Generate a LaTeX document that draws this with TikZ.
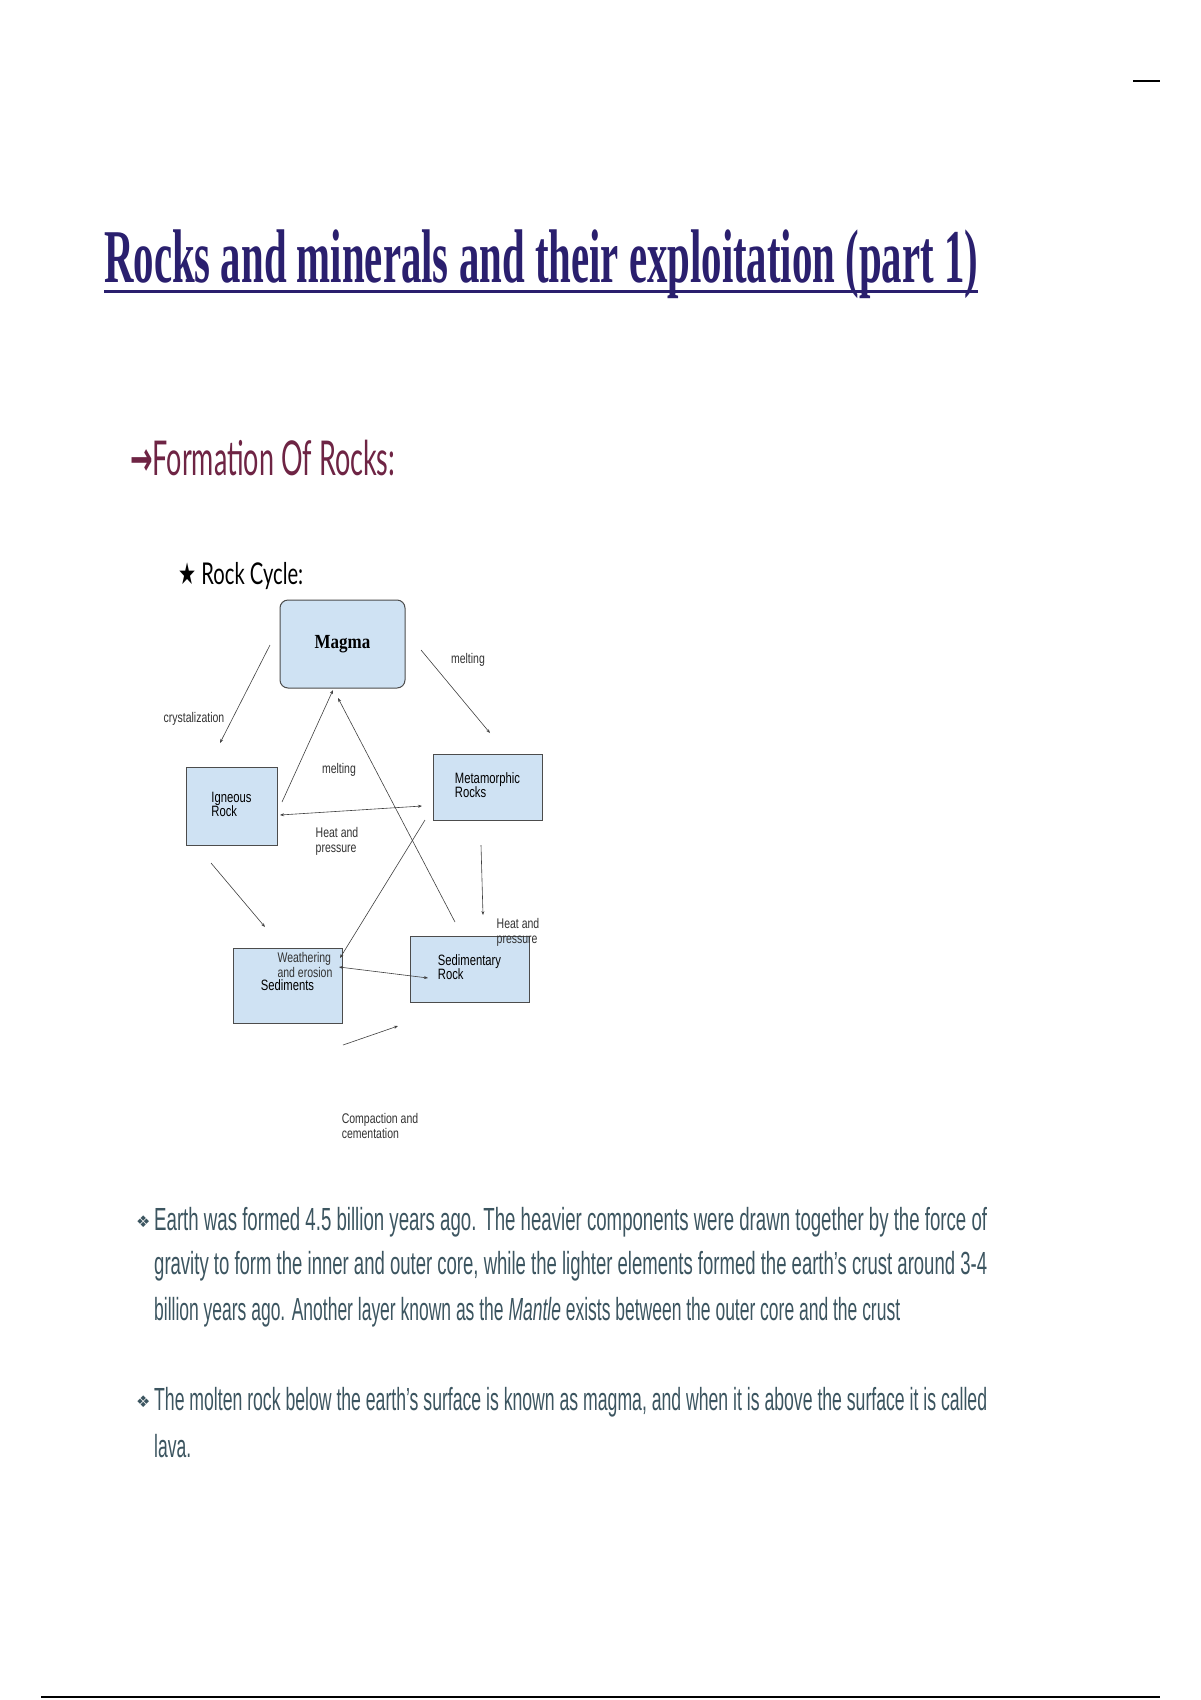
\documentclass[tikz,border=0pt]{standalone}
\usepackage{fontspec}
\usepackage{graphicx}
\setmainfont{Liberation Sans}
\newfontfamily\titlefont{Liberation Serif}
\newfontfamily\headfont{Lato}
\newfontfamily\symfont{DejaVu Sans}
\usetikzlibrary{arrows.meta}
\definecolor{titleblue}{HTML}{2A1F6E}
\definecolor{maroon}{HTML}{6E2444}
\definecolor{bodytxt}{HTML}{3C5560}
\definecolor{boxfill}{HTML}{CFE2F3}
\begin{document}
\begin{tikzpicture}[x=1pt,y=-1pt,
  box/.style={draw=black!70,line width=1pt,fill=boxfill,inner sep=0pt},
  lbl/.style={font=\fontsize{14}{15}\selectfont,text=black!80,align=left,inner sep=0pt},
  arr/.style={-{Stealth[length=4pt,width=3pt]},line width=0.6pt,black!75},
  body/.style={anchor=west,inner sep=0pt,text=bodytxt}]
\useasboundingbox (0,0) rectangle (1200,1700);
\fill[white] (0,0) rectangle (1200,1700);
% top right dash and bottom line
\draw[line width=2pt] (1133,81) -- (1160,81);
\draw[line width=1.5pt] (41,1697) -- (1160,1697);
% title
\node[anchor=base west,inner sep=0pt,text=titleblue] (title) at (104,282)
  {\resizebox{874pt}{\height}{\titlefont\bfseries\fontsize{76}{80}\selectfont Rocks and minerals and their exploitation (part 1)}};
\draw[titleblue,line width=3pt] (104,291) -- (978,291);
% heading
\node[anchor=base west,inner sep=0pt,text=maroon] (head) at (130,475)
  {\resizebox{265pt}{\height}{\headfont\fontsize{48}{50}\selectfont {\symfont\bfseries →}Formation Of Rocks:}};
\node[anchor=base west,inner sep=0pt] (rc) at (178,584)
  {\resizebox{125pt}{\height}{\headfont\fontsize{30}{32}\selectfont {\symfont ★} Rock Cycle:}};
% boxes
\node[box,rounded corners=8pt,minimum width=125pt,minimum height=88pt] (magma) at (342.5,644)
  {\titlefont\bfseries\scalebox{0.85}[1]{\fontsize{20}{22}\selectfont Magma}};
\node[box,minimum width=91pt,minimum height=78pt] (ign) at (231.5,806)
  {\scalebox{0.75}[1]{\begin{tabular}{@{}l@{}}\fontsize{15}{17}\selectfont Igneous\\\fontsize{15}{17}\selectfont Rock\end{tabular}}};
\node[box,minimum width=109pt,minimum height=66pt] (meta) at (487.5,787)
  {\scalebox{0.75}[1]{\begin{tabular}{@{}l@{}}\fontsize{15}{17}\selectfont Metamorphic\\\fontsize{15}{17}\selectfont Rocks\end{tabular}}};
\node[box,minimum width=109pt,minimum height=75pt] (sedi) at (287.5,985.5)
  {\scalebox{0.75}[1]{\fontsize{15}{17}\selectfont Sediments}};
\node[box,minimum width=119pt,minimum height=66pt] (sedr) at (469.5,969)
  {\scalebox{0.75}[1]{\begin{tabular}{@{}l@{}}\fontsize{15}{17}\selectfont Sedimentary\\\fontsize{15}{17}\selectfont Rock\end{tabular}}};
% labels
\node[lbl] (lcry) at (194,719) {\scalebox{0.75}[1]{crystalization}};
\node[lbl] (lmel1) at (468,660) {\scalebox{0.75}[1]{melting}};
\node[lbl] (lmel2) at (339,770) {\scalebox{0.75}[1]{melting}};
\node[lbl] (lhp1) at (337,842) {\scalebox{0.75}[1]{\begin{tabular}{@{}l@{}}Heat and\\pressure\end{tabular}}};
\node[lbl] (lhp2) at (518,933) {\scalebox{0.75}[1]{\begin{tabular}{@{}l@{}}Heat and\\pressure\end{tabular}}};
\node[lbl] (lwe) at (305,967) {\scalebox{0.75}[1]{\begin{tabular}{@{}l@{}}Weathering\\and erosion\end{tabular}}};
\node[lbl] (lcc) at (380,1128) {\scalebox{0.75}[1]{\begin{tabular}{@{}l@{}}Compaction and\\cementation\end{tabular}}};
% connector endpoints
\coordinate (c1s) at (270,645); \coordinate (c1e) at (220,743);
\coordinate (m1s) at (421,650); \coordinate (m1e) at (490,733);
\coordinate (hps) at (481,845); \coordinate (hpe) at (483,915);
\coordinate (i2w) at (211,863); \coordinate (w1) at (265,927);
\coordinate (w2) at (340,958); \coordinate (w3) at (339,967);
\coordinate (sr1) at (428,978);
\draw[arr] (c1s) -- (c1e);
\draw[arr] (m1s) -- (m1e);
\draw[arr] (282,802) -- (333,690);
\draw[arr] (455,922) -- (338,698);
\draw[arr,{Stealth[length=4pt,width=3pt]}-{Stealth[length=4pt,width=3pt]}] (280,815) -- (422,806);
\draw[arr] (425,820) -- (w2);
\draw[arr,{Stealth[length=4pt,width=3pt]}-{Stealth[length=4pt,width=3pt]}] (w3) -- (sr1);
\draw[arr] (i2w) -- (w1);
\draw[arr] (hps) -- (hpe);
\draw[arr] (343,1045) -- (398,1026);
% body text
\node[body] (b1) at (136,1222) {\symfont\fontsize{16}{18}\selectfont ❖};
\node[body] (l1) at (154,1222) {\resizebox{833pt}{\height}{\fontsize{32}{34}\selectfont Earth was formed 4.5 billion years ago. The heavier components were drawn together by the force of}};
\node[body] (l2) at (154,1266) {\resizebox{833pt}{\height}{\fontsize{32}{34}\selectfont gravity to form the inner and outer core, while the lighter elements formed the earth's crust around 3-4}};
\node[body] (l3) at (154,1312) {\resizebox{746pt}{\height}{\fontsize{32}{34}\selectfont billion years ago. Another layer known as the \textit{Mantle} exists between the outer core and the crust}};
\node[body] (b2) at (136,1402) {\symfont\fontsize{16}{18}\selectfont ❖};
\node[body] (l4) at (154,1402) {\resizebox{833pt}{\height}{\fontsize{32}{34}\selectfont The molten rock below the earth's surface is known as magma, and when it is above the surface it is called}};
\node[body] (l5) at (154,1446) {\resizebox{37pt}{\height}{\fontsize{32}{34}\selectfont lava.}};
\end{tikzpicture}
\end{document}
